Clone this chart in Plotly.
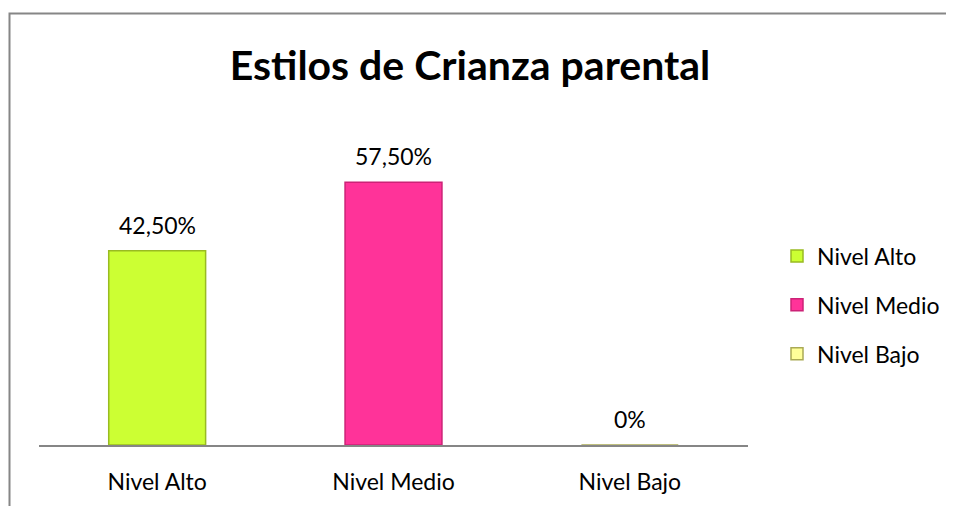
import plotly.graph_objects as go

categories = ["Nivel Alto", "Nivel Medio", "Nivel Bajo"]
values = [42.5, 57.5, 0.0]
value_labels = ["42,50%", "57,50%", "0%"]
fill_colors = ["#CCFF33", "#FF3399", "#FFFF99"]
edge_colors = ["#99BB22", "#CC2277", "#AAAA55"]
title_text = "Estilos de Crianza parental"

FONT = "Lato, Calibri, 'Open Sans', sans-serif"
W, H = 954, 506
L, R, T, B = 31, 214, 117, 69
PH = H - T - B

fig = go.Figure()
for cat, val, lab, fc, ec in zip(categories, values, value_labels, fill_colors, edge_colors):
    fig.add_trace(go.Bar(
        x=[cat], y=[val], name=cat,
        marker=dict(color=fc, line=dict(color=ec, width=1.5)),
        cliponaxis=False, legendgroup=cat,
    ))
    fig.add_annotation(x=cat, y=val, text=lab, showarrow=False,
                       yanchor="bottom", yshift=10,
                       font=dict(size=23, color="#000000", family=FONT))

fig.update_layout(
    width=W, height=H,
    paper_bgcolor="white", plot_bgcolor="white",
    barmode="overlay", bargap=0.59,
    margin=dict(l=L, r=R, t=T, b=B, pad=0),
    title=dict(text="<b>" + title_text + "</b>", x=462 / W, xanchor="center",
               y=1 - 58 / H, yanchor="middle",
               font=dict(size=41, color="#000000", family=FONT)),
    font=dict(family=FONT, size=23, color="#000000"),
    showlegend=True,
    legend=dict(x=(777 - 8 - L) / (W - L - R), xanchor="left",
                y=(H - B - 297) / PH, yanchor="middle",
                font=dict(size=23, family=FONT), tracegroupgap=16,
                itemwidth=30, bgcolor="rgba(0,0,0,0)"),
)
fig.update_xaxes(showline=True, linecolor="#868686", linewidth=1.5,
                 showgrid=False, ticks="", tickfont=dict(size=23, family=FONT),
                 ticklabelstandoff=16)
fig.update_yaxes(range=[0, 70], visible=False, showgrid=False, zeroline=False)

# outer chart border (top/left visible in crop)
fig.add_shape(type="rect", xref="paper", yref="paper",
              x0=(1.5 - L) / (W - L - R), x1=1.6, y0=-0.5, y1=(H - B - 5.5) / PH,
              line=dict(color="#868686", width=2), fillcolor="rgba(0,0,0,0)", layer="below")

fig.write_html("out.html")
